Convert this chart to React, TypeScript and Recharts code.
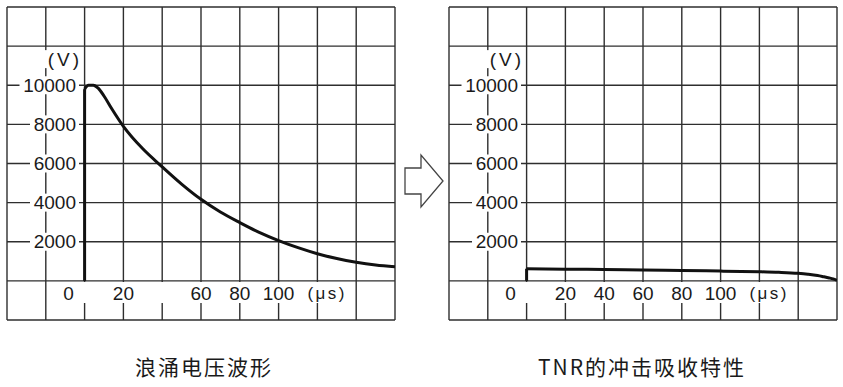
import React from 'react';
import { LineChart, Line, XAxis, YAxis, CartesianGrid } from 'recharts';

// grid lines every 20 µs / 2000 V, outer box included
const gridTimes = [-40, -20, 0, 20, 40, 60, 80, 100, 120, 140, 160];
const gridVolts = [-2000, 0, 2000, 4000, 6000, 8000, 10000, 12000, 14000];

// labelled ticks
const labelTimes = [0, 20, 40, 60, 80, 100, 120];
const surgeTimeLabels = ['0', '20', '', '60', '80', '100', '(μs)'];
const tnrTimeLabels = ['0', '20', '40', '60', '80', '100', '(μs)'];
const labelVolts = [2000, 4000, 6000, 8000, 10000, 12000];
const voltLabels = ['2000', '4000', '6000', '8000', '10000', '(V)'];

// surge voltage waveform
const riseTime = [0, 0];
const surgeRiseVolt = [0, 9800];
const surgeTime = [0, 2, 4.5, 7, 10, 14, 20, 30, 40, 50, 60, 70, 80, 90, 100, 110, 120, 130, 140, 150, 160];
const surgeVolt = [9800, 10000, 10000, 9850, 9450, 8800, 7900, 6750, 5830, 4950, 4170, 3520, 2980, 2480, 2060, 1700, 1390, 1140, 950, 810, 720];

// after TNR absorption
const tnrRiseVolt = [0, 620];
const tnrTime = [0, 20, 40, 60, 80, 100, 120, 130, 140, 145, 150, 153, 156, 158, 160];
const tnrVolt = [620, 600, 580, 555, 530, 500, 465, 435, 385, 340, 275, 215, 150, 100, 30];

const zip = (ts: number[], vs: number[]) => ts.map((t, i) => ({ t, v: vs[i] }));

const FONT = '"Liberation Sans", Arial, sans-serif';
const INK = '#1a1a1a';

const makeXTick = (labels: string[]) => (props: any) => {
  const { x, y, payload } = props;
  const i = labelTimes.indexOf(payload.value);
  if (i < 0) return <g />;
  const last = i === labelTimes.length - 1;
  const l = i === 0 ? x - 28 : x - 20;
  const r = last ? x + 33 : x + 20;
  const tx = i === 0 ? x - 16 : last ? x - 10 : x;
  return (
    <g>
      <rect x={l} y={y - 38} width={r - l} height={21} fill="#fff" />
      {labels[i] && (
        <text
          x={tx}
          y={y - 27}
          textAnchor={last ? 'start' : 'middle'}
          dominantBaseline="central"
          fontFamily={FONT}
          fontSize={last ? 17 : 19}
          letterSpacing={last ? 2.5 : 0}
          fill={INK}
        >
          {labels[i]}
        </text>
      )}
    </g>
  );
};

const YTick = (props: any) => {
  const { x, y, payload } = props;
  const i = labelVolts.indexOf(payload.value);
  if (i < 0) return <g />;
  const label = voltLabels[i];
  const unit = label === '(V)';
  const cy = unit ? y + 13 : y;
  const right = x + (unit ? 75 : 69);
  const w = unit ? 34 : label.length * 10.5;
  return (
    <g>
      <rect x={right - w - 4} y={cy - 9} width={w + (unit ? 5 : 7)} height={18} fill="#fff" />
      <text
        x={right}
        y={cy}
        textAnchor="end"
        dominantBaseline="central"
        fontFamily={FONT}
        fontSize={19}
        letterSpacing={unit ? 3 : 0}
        fill={INK}
      >
        {label}
      </text>
    </g>
  );
};

interface PanelProps {
  left: number;
  width: number;
  margin: { top: number; right: number; bottom: number; left: number };
  rise: { t: number; v: number }[];
  decay: { t: number; v: number }[];
  timeLabels: string[];
}

const Panel: React.FC<PanelProps> = ({ left, width, margin, rise, decay, timeLabels }) => (
  <div style={{ position: 'absolute', left, top: 0 }}>
    <LineChart width={width} height={330} margin={margin}>
      <CartesianGrid stroke="#2e2e2e" strokeWidth={1.4} />
      <XAxis
        type="number"
        dataKey="t"
        domain={[-40, 160]}
        ticks={gridTimes}
        interval={0}
        height={1}
        tickSize={0}
        tickMargin={0}
        axisLine={false}
        tickLine={false}
        tick={makeXTick(timeLabels)}
        allowDataOverflow
      />
      <YAxis
        type="number"
        domain={[-2000, 14000]}
        ticks={gridVolts}
        interval={0}
        width={1}
        tickSize={0}
        tickMargin={0}
        axisLine={false}
        tickLine={false}
        tick={YTick}
        allowDataOverflow
      />
      <Line data={rise} dataKey="v" type="linear" stroke="#111" strokeWidth={3} dot={false} isAnimationActive={false} />
      <Line data={decay} dataKey="v" type="monotone" stroke="#111" strokeWidth={3} dot={false} strokeLinejoin="round" isAnimationActive={false} />
    </LineChart>
  </div>
);

const titleStyle: React.CSSProperties = {
  position: 'absolute',
  top: 354,
  width: 300,
  textAlign: 'center',
  fontFamily: '"Noto Sans CJK SC", "Noto Sans", sans-serif',
  fontSize: 21,
  lineHeight: '24px',
  letterSpacing: 2,
  color: INK,
};

export default function App() {
  return (
    <div style={{ position: 'absolute', left: 0, top: 0, width: 843, height: 387, background: '#fff', overflow: 'hidden' }}>
      <Panel
        left={0}
        width={420}
        margin={{ top: 7, right: 25, bottom: 9, left: 6 }}
        rise={zip(riseTime, surgeRiseVolt)}
        decay={zip(surgeTime, surgeVolt)}
        timeLabels={surgeTimeLabels}
      />
      <Panel
        left={430}
        width={413}
        margin={{ top: 7, right: 6, bottom: 9, left: 18 }}
        rise={zip(riseTime, tnrRiseVolt)}
        decay={zip(tnrTime, tnrVolt)}
        timeLabels={tnrTimeLabels}
      />
      <svg style={{ position: 'absolute', left: 400, top: 150 }} width={50} height={62}>
        <polygon points="5,18 21,18 21,5 43,31 21,57 21,44 5,44" fill="#fff" stroke="#444" strokeWidth={1.3} />
      </svg>
      <div style={{ ...titleStyle, left: 54 }}>浪涌电压波形</div>
      <div style={{ ...titleStyle, left: 492 }}>TNR的冲击吸收特性</div>
    </div>
  );
}
